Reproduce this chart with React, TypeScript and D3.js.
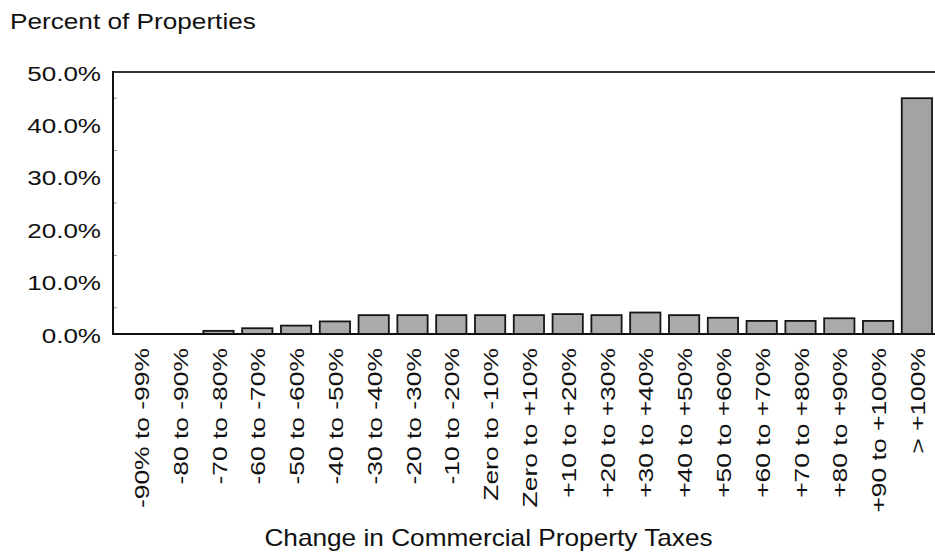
import React from "react";
import * as d3 from "d3";

const categories: string[] = [
  "-90% to -99%", "-80 to -90%", "-70 to -80%", "-60 to -70%", "-50 to -60%",
  "-40 to -50%", "-30 to -40%", "-20 to -30%", "-10 to -20%", "Zero to -10%",
  "Zero to +10%", "+10 to +20%", "+20 to +30%", "+30 to +40%", "+40 to +50%",
  "+50 to +60%", "+60 to +70%", "+70 to +80%", "+80 to +90%", "+90 to +100%",
  "> +100%",
];
const percentValues: number[] = [
  0, 0, 0.6, 1.1, 1.6, 2.4, 3.6, 3.6, 3.6, 3.6,
  3.6, 3.8, 3.6, 4.1, 3.6, 3.1, 2.5, 2.5, 3.0, 2.5,
  45.0,
];
const yTicks: number[] = [0, 10, 20, 30, 40, 50];
const yMinorTicks: number[] = [5, 15, 25, 35, 45];
const yTitle = "Percent of Properties";
const xTitle = "Change in Commercial Property Taxes";

const W = 935;
const H = 552;
const plotLeft = 113;
const plotRight = 935;
const plotTop = 72;
const plotBottom = 334;
const FONT = "'Liberation Sans', Arial, Helvetica, sans-serif";

export default function App() {
  const x = d3
    .scaleBand<string>()
    .domain(categories)
    .range([121.5, 936.3])
    .paddingInner(0.22)
    .paddingOuter(0.11);
  const y = d3.scaleLinear().domain([0, 50]).range([plotBottom, plotTop]);
  const fmt = d3.format(".1f");

  return (
    <svg
      width={W}
      height={H}
      style={{ position: "absolute", left: 0, top: 0, background: "#fff" }}
    >
      <rect x={0} y={0} width={W} height={H} fill="#fff" />
      {/* chart title */}
      <text
        transform={`translate(10,28.5) scale(1.19,1)`}
        fontFamily={FONT}
        fontSize={22}
        fill="#111"
      >
        {yTitle}
      </text>

      {/* minor ticks */}
      {yMinorTicks.map((t) => (
        <line
          key={"m" + t}
          x1={plotLeft}
          x2={plotLeft + 4}
          y1={y(t)}
          y2={y(t)}
          stroke="#999"
          strokeWidth={1}
        />
      ))}

      {/* bars */}
      {categories.map((c, i) => {
        const v = percentValues[i];
        if (v <= 0) return null;
        const bx = x(c) as number;
        const by = y(v);
        return (
          <rect
            key={c}
            x={bx}
            y={by}
            width={x.bandwidth()}
            height={plotBottom - by}
            fill={i === categories.length - 1 ? "#a3a3a3" : "#ababab"}
            stroke="#161616"
            strokeWidth={1.8}
          />
        );
      })}

      {/* frame */}
      <line x1={plotLeft} x2={plotRight} y1={plotTop} y2={plotTop} stroke="#333" strokeWidth={2} />
      <line x1={plotLeft} x2={plotRight} y1={plotBottom} y2={plotBottom} stroke="#111" strokeWidth={2} />
      <line x1={plotLeft} x2={plotLeft} y1={plotTop - 1} y2={plotBottom + 1} stroke="#111" strokeWidth={2} />

      {/* y tick labels */}
      {yTicks.map((t) => (
        <text
          key={"y" + t}
          transform={`translate(101,${y(t) + 1.5}) scale(1.27,1)`}
          textAnchor="end"
          dy="0.35em"
          fontFamily={FONT}
          fontSize={20.5}
          fill="#111"
        >
          {fmt(t)}%
        </text>
      ))}

      {/* x tick labels */}
      {categories.map((c) => {
        const cx = (x(c) as number) + x.bandwidth() / 2 + 1;
        return (
          <text
            key={"x" + c}
            transform={`translate(${cx},348) rotate(-90) scale(1.29,1)`}
            textAnchor="end"
            dy="0.35em"
            fontFamily={FONT}
            fontSize={20.5}
            fill="#111"
          >
            {c}
          </text>
        );
      })}

      {/* x axis title */}
      <text
        transform={`translate(488.5,546) scale(1.14,1)`}
        textAnchor="middle"
        fontFamily={FONT}
        fontSize={23}
        fill="#111"
      >
        {xTitle}
      </text>
    </svg>
  );
}
